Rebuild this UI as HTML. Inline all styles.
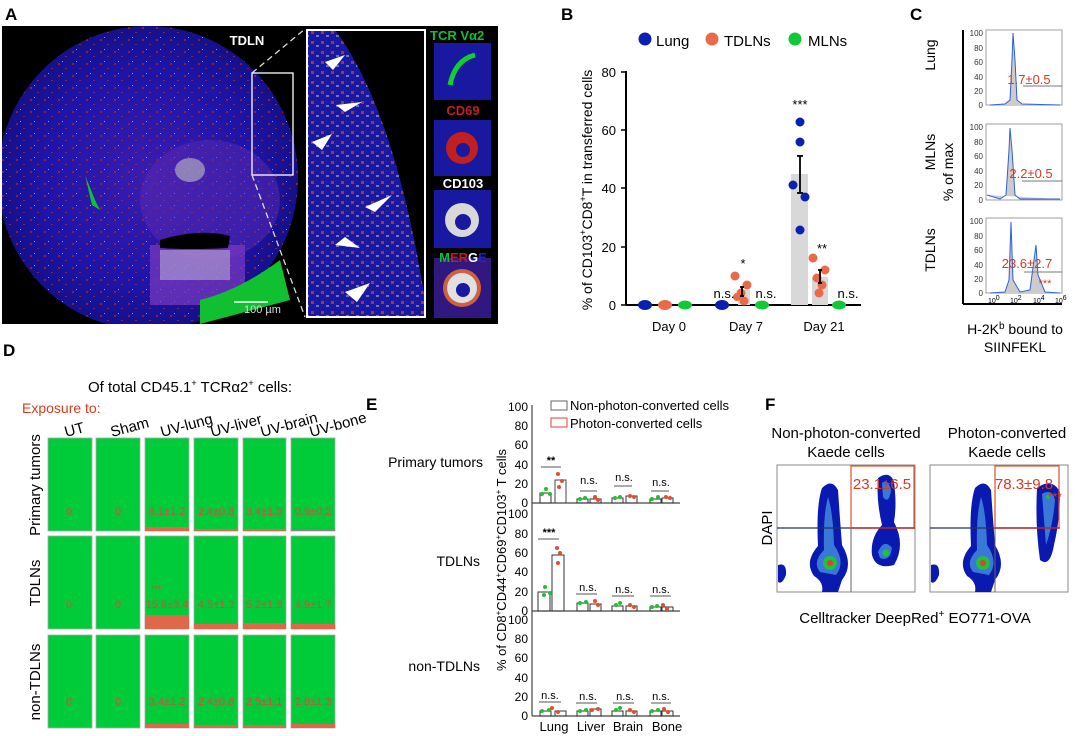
<!DOCTYPE html>
<html><head><meta charset="utf-8"><style>
html,body{margin:0;padding:0;background:#fff;}
svg{display:block;font-family:"Liberation Sans",Arial,sans-serif;}
</style></head><body>
<svg width="1080" height="736" viewBox="0 0 1080 736" xmlns="http://www.w3.org/2000/svg">
<defs>
<radialGradient id="tis" cx="50%" cy="50%" r="50%">
<stop offset="0" stop-color="#3a1cb0"/><stop offset="0.7" stop-color="#1e14a8"/><stop offset="1" stop-color="#15108a"/>
</radialGradient>
<pattern id="spk" width="14" height="12" patternUnits="userSpaceOnUse">
<rect x="2" y="3" width="2" height="2" fill="#b02020"/><rect x="9" y="8" width="2" height="1" fill="#8a3050"/><rect x="6" y="1" width="1" height="1" fill="#c0c0c0"/>
</pattern>
<pattern id="spk2" width="10" height="10" patternUnits="userSpaceOnUse">
<rect x="1" y="1" width="3" height="3" fill="#d04030"/><rect x="6" y="5" width="3" height="2" fill="#e0e0e0" opacity="0.6"/><rect x="5" y="0" width="2" height="2" fill="#202090"/>
</pattern>
<clipPath id="ca"><rect x="2" y="26" width="496" height="298"/></clipPath>
</defs>

<!-- Panel A -->
<text x="5" y="20" font-size="17" font-weight="bold">A</text>
<rect x="2" y="26" width="496" height="298" fill="#000"/>
<g clip-path="url(#ca)">
<ellipse cx="148" cy="178" rx="150" ry="152" fill="url(#tis)"/>
<ellipse cx="148" cy="178" rx="150" ry="152" fill="url(#spk)" opacity="0.8"/>
<ellipse cx="210" cy="200" rx="70" ry="60" fill="#5a2ab0" opacity="0.5"/>
<rect x="150" y="245" width="95" height="60" fill="#7a3ac0" opacity="0.7"/>
<rect x="160" y="250" width="70" height="30" fill="#c8c0d8" opacity="0.5"/>
<ellipse cx="190" cy="170" rx="15" ry="12" fill="#c0c0c0" opacity="0.6"/>
<path d="M160 240 Q200 228 230 236 L228 248 Q190 250 160 248Z" fill="#000"/>
<path d="M200 300 Q240 290 280 260 L290 300 L200 324Z" fill="#10c030"/>
<path d="M85 175 L95 200 L100 210 L92 205Z" fill="#10c030"/>
<rect x="252" y="73" width="41" height="102" fill="none" stroke="#fff" stroke-width="1.3"/>
</g>
<line x1="252" y1="73" x2="305" y2="29" stroke="#ddd" stroke-width="1.3" stroke-dasharray="6,4"/>
<line x1="252" y1="175" x2="305" y2="317" stroke="#ddd" stroke-width="1.3" stroke-dasharray="6,4"/>
<text x="247" y="45" font-size="13" font-weight="bold" fill="#fff" text-anchor="middle">TDLN</text>
<line x1="234" y1="302" x2="268" y2="302" stroke="#fff" stroke-width="1.5"/>
<text x="244" y="313" font-size="11" fill="#ddd">100 µm</text>
<rect x="307" y="30" width="118" height="287" fill="#1a18a0"/>
<rect x="307" y="30" width="118" height="287" fill="url(#spk2)" opacity="0.75"/>
<path d="M335 30 Q395 110 425 300 L425 30Z" fill="#000"/>
<rect x="307" y="30" width="118" height="287" fill="none" stroke="#fff" stroke-width="2"/>
<g fill="#fff">
<path d="M325 62 L345 55 L333 70Z"/><path d="M336 105 L362 102 L345 112Z"/><path d="M312 142 L332 134 L322 150Z"/>
<path d="M365 207 L392 195 L375 212Z"/><path d="M335 245 L360 248 L345 237Z"/><path d="M345 292 L370 283 L357 302Z"/>
</g>
<rect x="434" y="43" width="57" height="57" fill="#1818a0"/><path d="M450 85 Q455 60 475 55" stroke="#10d030" stroke-width="5" fill="none"/>
<rect x="434" y="120" width="57" height="56" fill="#1818a0"/><circle cx="462" cy="148" r="16" fill="#c02020"/><circle cx="463" cy="150" r="7" fill="#1818a0"/>
<rect x="434" y="190" width="57" height="58" fill="#1818a0"/><circle cx="462" cy="220" r="17" fill="#d8d8d8"/><circle cx="463" cy="222" r="8" fill="#1818a0"/>
<rect x="434" y="258" width="57" height="60" fill="#301880"/><circle cx="462" cy="288" r="19" fill="#d06040"/><circle cx="462" cy="288" r="15" fill="#e0e0e0"/><circle cx="463" cy="290" r="7" fill="#1818a0"/>
<text x="430" y="40" font-size="13" font-weight="bold" fill="#10c030">TCR Vα2</text>
<text x="463" y="115" font-size="13" font-weight="bold" fill="#c02020" text-anchor="middle">CD69</text>
<text x="463" y="188" font-size="13" font-weight="bold" fill="#fff" text-anchor="middle">CD103</text>
<text x="463" y="262" font-size="13" font-weight="bold" text-anchor="middle"><tspan fill="#10c030">M</tspan><tspan fill="#c02020">ER</tspan><tspan fill="#fff">G</tspan><tspan fill="#2020d0">E</tspan></text>

<!-- Panel B -->
<text x="561" y="20" font-size="17" font-weight="bold">B</text>
<circle cx="645" cy="39" r="6.5" fill="#0a20b0"/><text x="656" y="46" font-size="15">Lung</text>
<circle cx="712" cy="39" r="6.5" fill="#e86a48"/><text x="724" y="46" font-size="15">TDLNs</text>
<circle cx="795" cy="39" r="6.5" fill="#10c838"/><text x="808" y="46" font-size="15">MLNs</text>
<line x1="626" y1="71" x2="626" y2="305" stroke="#000" stroke-width="2"/>
<line x1="626" y1="305" x2="861" y2="305" stroke="#000" stroke-width="2"/>
<g stroke="#000" stroke-width="1.5"><line x1="621" y1="72" x2="626" y2="72"/><line x1="621" y1="130" x2="626" y2="130"/><line x1="621" y1="188" x2="626" y2="188"/><line x1="621" y1="247" x2="626" y2="247"/><line x1="621" y1="305" x2="626" y2="305"/></g>
<g font-size="13" text-anchor="end"><text x="616" y="77">80</text><text x="616" y="135">60</text><text x="616" y="193">40</text><text x="616" y="252">20</text><text x="616" y="310">0</text></g>
<text transform="translate(592,190) rotate(-90)" font-size="14" text-anchor="middle">% of CD103<tspan font-size="9" dy="-6">+</tspan><tspan dy="6">CD8</tspan><tspan font-size="9" dy="-6">+</tspan><tspan dy="6">T in transferred cells</tspan></text>
<g font-size="13" text-anchor="middle"><text x="669" y="331">Day 0</text><text x="746" y="331">Day 7</text><text x="824" y="331">Day 21</text></g>
<rect x="791" y="174" width="17" height="131" fill="#d8d8d8"/>
<rect x="812" y="277" width="16" height="28" fill="#d8d8d8"/>
<rect x="738" y="290" width="12" height="15" fill="#d8d8d8"/>
<g fill="#0a20b0"><ellipse cx="645" cy="305" rx="7" ry="5"/><ellipse cx="722" cy="305" rx="7" ry="5"/>
<circle cx="800" cy="122" r="4.5"/><circle cx="800" cy="142" r="4.5"/><circle cx="793" cy="185" r="4.5"/><circle cx="805" cy="197" r="4.5"/><circle cx="800" cy="230" r="4.5"/></g>
<g fill="#e86a48"><ellipse cx="665" cy="305" rx="7" ry="5"/>
<circle cx="735" cy="276" r="4.5"/><circle cx="747" cy="285" r="4.5"/><circle cx="741" cy="293" r="4.5"/><circle cx="744" cy="301" r="4.5"/><circle cx="737" cy="297" r="4"/>
<circle cx="813" cy="258" r="4.5"/><circle cx="825" cy="270" r="4.5"/><circle cx="817" cy="278" r="4.5"/><circle cx="822" cy="285" r="4.5"/><circle cx="819" cy="293" r="4.5"/></g>
<g fill="#10c838"><ellipse cx="685" cy="305" rx="7" ry="4.5"/><ellipse cx="762" cy="305" rx="7" ry="4.5"/><ellipse cx="839" cy="305" rx="7" ry="4.5"/></g>
<g stroke="#000" stroke-width="1.8"><line x1="800" y1="156" x2="800" y2="193"/><line x1="797" y1="156" x2="803" y2="156"/><line x1="797" y1="193" x2="803" y2="193"/>
<line x1="820" y1="270" x2="820" y2="283"/><line x1="818" y1="270" x2="822" y2="270"/><line x1="818" y1="283" x2="822" y2="283"/>
<line x1="742" y1="287" x2="742" y2="296"/><line x1="740" y1="287" x2="744" y2="287"/><line x1="740" y1="296" x2="744" y2="296"/></g>
<g font-size="13" text-anchor="middle"><text x="800" y="109">***</text><text x="822" y="253">**</text><text x="743" y="268">*</text>
<text x="724" y="298">n.s.</text><text x="766" y="298">n.s.</text><text x="848" y="298">n.s.</text></g>

<!-- Panel C -->
<text x="910" y="20" font-size="17" font-weight="bold">C</text>
<line x1="963" y1="30" x2="963" y2="304" stroke="#000" stroke-width="2"/>
<line x1="963" y1="304" x2="1062" y2="304" stroke="#000" stroke-width="2"/>
<text transform="translate(935,55) rotate(-90)" font-size="14" text-anchor="middle">Lung</text>
<text transform="translate(935,152) rotate(-90)" font-size="14" text-anchor="middle">MLNs</text>
<text transform="translate(935,250) rotate(-90)" font-size="14" text-anchor="middle">TDLNs</text>
<text transform="translate(953,172) rotate(-90)" font-size="14" text-anchor="middle">% of max</text>
<g font-size="8" fill="#333" text-anchor="end">
<text x="983" y="36">100</text><text x="983" y="51">80</text><text x="983" y="65">60</text><text x="983" y="80">40</text><text x="983" y="94">20</text><text x="983" y="108">0</text>
<text x="983" y="130">100</text><text x="983" y="145">80</text><text x="983" y="159">60</text><text x="983" y="174">40</text><text x="983" y="188">20</text><text x="983" y="203">0</text>
<text x="983" y="224">100</text><text x="983" y="239">80</text><text x="983" y="253">60</text><text x="983" y="268">40</text><text x="983" y="282">20</text><text x="983" y="296">0</text></g>
<g fill="none" stroke="#888" stroke-width="0.8"><rect x="986" y="30" width="76" height="75"/><rect x="986" y="124" width="76" height="76"/><rect x="986" y="218" width="76" height="75"/></g>
<path d="M990 105 L1005 104 L1010 100 L1012 60 L1013 33 L1015 60 L1017 100 L1022 104 L1060 105" fill="#ccc" stroke="#3060d0" stroke-width="1"/>
<path d="M987 195 L1000 199 L1006 195 L1009 150 L1010 128 L1012 150 L1015 195 L1020 199 L1060 199" fill="#ccc" stroke="#3060d0" stroke-width="1"/>
<path d="M990 293 L1005 292 L1009 280 L1011 222 L1013 280 L1020 292 L1030 290 L1034 260 L1036 245 L1038 275 L1045 292 L1060 293" fill="#ccc" stroke="#3060d0" stroke-width="1"/>
<g stroke="#777" stroke-width="1"><line x1="1023" y1="86" x2="1062" y2="86"/><line x1="1022" y1="181" x2="1062" y2="181"/><line x1="1024" y1="272" x2="1062" y2="272"/></g>
<g font-size="13" fill="#d83a20" text-anchor="middle"><text x="1029" y="84">1.7±0.5</text><text x="1031" y="178">2.2±0.5</text><text x="1027" y="268">23.6±2.7</text><text x="1045" y="287" font-size="11">***</text></g>
<text x="988" y="303" font-size="7">10<tspan dy="-3">0</tspan></text><text x="1010" y="303" font-size="7">10<tspan dy="-3">2</tspan></text><text x="1033" y="303" font-size="7">10<tspan dy="-3">4</tspan></text><text x="1055" y="303" font-size="7">10<tspan dy="-3">6</tspan></text>
<text x="1015" y="334" font-size="14" text-anchor="middle">H-2K<tspan font-size="10" dy="-5">b</tspan><tspan dy="5"> bound to</tspan></text>
<text x="1015" y="352" font-size="14" text-anchor="middle">SIINFEKL</text>

<!-- Panel D -->
<text x="3" y="356" font-size="17" font-weight="bold">D</text>
<text x="190" y="392" font-size="15" text-anchor="middle">Of total CD45.1<tspan font-size="9" dy="-6">+</tspan><tspan dy="6"> TCRα2</tspan><tspan font-size="9" dy="-6">+</tspan><tspan dy="6"> cells:</tspan></text>
<text x="22" y="413" font-size="14" fill="#d83a20">Exposure to:</text>
<g font-size="15">
<text transform="translate(66,437) rotate(-15)">UT</text>
<text transform="translate(112,437) rotate(-15)">Sham</text>
<text transform="translate(162,437) rotate(-15)">UV-lung</text>
<text transform="translate(212,437) rotate(-15)">UV-liver</text>
<text transform="translate(262,437) rotate(-15)">UV-brain</text>
<text transform="translate(311,437) rotate(-15)">UV-bone</text></g>
<text transform="translate(40,485) rotate(-90)" font-size="15" text-anchor="middle">Primary tumors</text>
<text transform="translate(40,583) rotate(-90)" font-size="15" text-anchor="middle">TDLNs</text>
<text transform="translate(40,682) rotate(-90)" font-size="15" text-anchor="middle">non-TDLNs</text>
<g fill="#00cc3a" stroke="#aaa" stroke-width="0.8">
<rect x="48" y="438" width="44" height="93"/><rect x="96" y="438" width="44" height="93"/><rect x="145" y="438" width="44" height="93"/><rect x="194" y="438" width="44" height="93"/><rect x="243" y="438" width="43" height="93"/><rect x="291" y="438" width="44" height="93"/>
<rect x="48" y="536" width="44" height="93"/><rect x="96" y="536" width="44" height="93"/><rect x="145" y="536" width="44" height="93"/><rect x="194" y="536" width="44" height="93"/><rect x="243" y="536" width="43" height="93"/><rect x="291" y="536" width="44" height="93"/>
<rect x="48" y="635" width="44" height="93"/><rect x="96" y="635" width="44" height="93"/><rect x="145" y="635" width="44" height="93"/><rect x="194" y="635" width="44" height="93"/><rect x="243" y="635" width="43" height="93"/><rect x="291" y="635" width="44" height="93"/></g>
<g fill="#e0684a">
<rect x="145" y="527" width="44" height="4"/><rect x="194" y="529" width="44" height="2"/><rect x="243" y="529" width="43" height="2"/><rect x="291" y="530" width="44" height="1" fill="#888"/>
<rect x="145" y="615" width="44" height="14"/><rect x="194" y="624" width="44" height="5"/><rect x="243" y="623" width="43" height="6"/><rect x="291" y="624" width="44" height="5"/>
<rect x="145" y="724" width="44" height="4"/><rect x="194" y="725" width="44" height="3"/><rect x="243" y="725" width="43" height="3"/><rect x="291" y="724" width="44" height="4"/></g>
<g font-size="11" fill="#d84a40" text-anchor="middle">
<text x="69" y="515">0</text><text x="118" y="515">0</text><text x="167" y="515">6.1±1.2</text><text x="216" y="515">2.4±0.8</text><text x="264" y="515">3.4±1.5</text><text x="313" y="515">0.9±0.2</text>
<text x="69" y="608">0</text><text x="118" y="608">0</text><text x="167" y="608">15.6±3.4</text><text x="216" y="608">4.5±1.2</text><text x="264" y="608">5.2±1.3</text><text x="313" y="608">4.9±1.7</text>
<text x="156" y="592" font-size="9">***</text>
<text x="69" y="705">0</text><text x="118" y="705">0</text><text x="167" y="705">3.4±1.2</text><text x="216" y="705">2.4±0.8</text><text x="264" y="705">2.5±1.1</text><text x="313" y="705">2.8±1.3</text></g>

<!-- Panel E -->
<text x="366" y="410" font-size="17" font-weight="bold">E</text>
<rect x="551" y="401" width="16" height="9" fill="none" stroke="#666"/><text x="570" y="410" font-size="13">Non-photon-converted cells</text>
<rect x="551" y="418" width="16" height="9" fill="none" stroke="#e04030"/><text x="570" y="428" font-size="13">Photon-converted cells</text>
<line x1="532" y1="405" x2="532" y2="716" stroke="#444" stroke-width="1.2"/>
<g stroke="#444" stroke-width="1.2"><line x1="532" y1="503" x2="680" y2="503"/><line x1="532" y1="611" x2="680" y2="611"/><line x1="532" y1="716" x2="680" y2="716"/></g>
<g font-size="12" text-anchor="end">
<text x="528" y="411">100</text><text x="528" y="430">80</text><text x="528" y="449">60</text><text x="528" y="469">40</text><text x="528" y="488">20</text><text x="528" y="507">0</text>
<text x="528" y="518">100</text><text x="528" y="538">80</text><text x="528" y="557">60</text><text x="528" y="576">40</text><text x="528" y="596">20</text><text x="528" y="615">0</text>
<text x="528" y="624">100</text><text x="528" y="643">80</text><text x="528" y="662">60</text><text x="528" y="682">40</text><text x="528" y="701">20</text><text x="528" y="720">0</text></g>
<text transform="translate(506,560) rotate(-90)" font-size="13" text-anchor="middle">% of CD8<tspan font-size="8" dy="-5">+</tspan><tspan dy="5">CD44</tspan><tspan font-size="8" dy="-5">+</tspan><tspan dy="5">CD69</tspan><tspan font-size="8" dy="-5">+</tspan><tspan dy="5">CD103</tspan><tspan font-size="8" dy="-5">+</tspan><tspan dy="5"> T cells</tspan></text>
<text x="483" y="467" font-size="14" text-anchor="end">Primary tumors</text>
<text x="480" y="566" font-size="14" text-anchor="end">TDLNs</text>
<text x="480" y="671" font-size="14" text-anchor="end">non-TDLNs</text>
<g fill="none" stroke="#333" stroke-width="1">
<rect x="540" y="493" width="11" height="10"/><rect x="555" y="480" width="11" height="23" stroke="#444"/>
<rect x="577" y="499" width="11" height="4"/><rect x="590" y="499" width="11" height="4"/><rect x="612" y="498" width="11" height="5"/><rect x="626" y="496" width="11" height="7"/><rect x="650" y="499" width="11" height="4"/><rect x="662" y="498" width="11" height="5"/>
<rect x="538" y="592" width="12" height="19"/><rect x="552" y="555" width="12" height="56"/>
<rect x="577" y="603" width="11" height="8"/><rect x="590" y="604" width="11" height="7"/><rect x="612" y="606" width="11" height="5"/><rect x="626" y="606" width="11" height="5"/><rect x="650" y="607" width="11" height="4"/><rect x="662" y="607" width="11" height="4"/>
<rect x="540" y="711" width="11" height="5"/><rect x="555" y="711" width="11" height="5"/><rect x="577" y="711" width="11" height="5"/><rect x="590" y="709" width="11" height="7"/><rect x="612" y="711" width="11" height="5"/><rect x="626" y="711" width="11" height="5"/><rect x="650" y="711" width="11" height="5"/><rect x="662" y="711" width="11" height="5"/></g>
<g fill="#20c030"><circle cx="542" cy="494" r="2"/><circle cx="546" cy="489" r="2"/><circle cx="550" cy="494" r="2"/><circle cx="544" cy="595" r="2"/><circle cx="545" cy="587" r="2"/><circle cx="550" cy="593" r="2"/>
<circle cx="580" cy="499" r="2"/><circle cx="585" cy="498" r="2"/><circle cx="615" cy="498" r="2"/><circle cx="620" cy="497" r="2"/><circle cx="652" cy="499" r="2"/><circle cx="658" cy="497" r="2"/>
<circle cx="580" cy="603" r="2"/><circle cx="586" cy="602" r="2"/><circle cx="616" cy="605" r="2"/><circle cx="620" cy="603" r="2"/><circle cx="652" cy="607" r="2"/><circle cx="657" cy="606" r="2"/>
<circle cx="542" cy="711" r="2"/><circle cx="549" cy="710" r="2"/><circle cx="580" cy="711" r="2"/><circle cx="586" cy="710" r="2"/><circle cx="616" cy="710" r="2"/><circle cx="620" cy="708" r="2"/><circle cx="652" cy="711" r="2"/><circle cx="658" cy="710" r="2"/></g>
<g fill="#e05030"><circle cx="558" cy="474" r="2"/><circle cx="559" cy="487" r="2"/><circle cx="562" cy="481" r="2"/><circle cx="557" cy="548" r="2"/><circle cx="558" cy="563" r="2"/><circle cx="560" cy="553" r="2"/>
<circle cx="595" cy="497" r="2"/><circle cx="598" cy="500" r="2"/><circle cx="630" cy="496" r="2"/><circle cx="634" cy="497" r="2"/><circle cx="666" cy="497" r="2"/><circle cx="670" cy="498" r="2"/>
<circle cx="595" cy="601" r="2"/><circle cx="598" cy="605" r="2"/><circle cx="630" cy="605" r="2"/><circle cx="634" cy="607" r="2"/><circle cx="663" cy="605" r="2"/><circle cx="667" cy="609" r="2"/>
<circle cx="552" cy="708" r="2"/><circle cx="558" cy="712" r="2"/><circle cx="592" cy="710" r="2"/><circle cx="598" cy="709" r="2"/><circle cx="630" cy="710" r="2"/><circle cx="634" cy="712" r="2"/><circle cx="664" cy="709" r="2"/><circle cx="668" cy="712" r="2"/></g>
<g stroke="#555" stroke-width="1"><line x1="541" y1="467" x2="561" y2="467"/><line x1="580" y1="491" x2="597" y2="491"/><line x1="614" y1="486" x2="632" y2="486"/><line x1="651" y1="491" x2="669" y2="491"/>
<line x1="538" y1="539" x2="559" y2="539"/><line x1="576" y1="594" x2="597" y2="594"/><line x1="612" y1="596" x2="634" y2="596"/><line x1="650" y1="596" x2="671" y2="596"/>
<line x1="539" y1="702" x2="561" y2="702"/><line x1="576" y1="703" x2="597" y2="703"/><line x1="613" y1="703" x2="634" y2="703"/><line x1="651" y1="703" x2="671" y2="703"/></g>
<g font-size="11" text-anchor="middle"><text x="551" y="464" font-weight="bold">**</text><text x="589" y="484">n.s.</text><text x="624" y="481">n.s.</text><text x="661" y="486">n.s.</text>
<text x="549" y="536" font-weight="bold">***</text><text x="588" y="591">n.s.</text><text x="624" y="593">n.s.</text><text x="661" y="593">n.s.</text>
<text x="550" y="699">n.s.</text><text x="588" y="700">n.s.</text><text x="625" y="700">n.s.</text><text x="661" y="700">n.s.</text></g>
<g font-size="13" text-anchor="middle"><text x="554" y="731">Lung</text><text x="591" y="731">Liver</text><text x="628" y="731">Brain</text><text x="667" y="731">Bone</text></g>

<!-- Panel F -->
<text x="765" y="410" font-size="17" font-weight="bold">F</text>
<g font-size="15" text-anchor="middle"><text x="846" y="438">Non-photon-converted</text><text x="846" y="457">Kaede cells</text>
<text x="1007" y="438">Photon-converted</text><text x="1007" y="457">Kaede cells</text></g>
<text transform="translate(772,528) rotate(-90)" font-size="15" text-anchor="middle">DAPI</text>
<text x="915" y="623" font-size="15" text-anchor="middle">Celltracker DeepRed<tspan font-size="10" dy="-6">+</tspan><tspan dy="6"> EO771-OVA</tspan></text>
<g id="fl">
<rect x="777" y="465" width="138" height="127" fill="#fff" stroke="#888"/>
<path d="M814 576 Q804 562 818 546 Q816 505 822 488 Q832 478 838 490 Q840 520 842 545 Q854 565 842 580 L838 592 L822 592 Q824 582 814 576Z" fill="#0a1ab0"/>
<path d="M820 572 Q812 562 824 550 Q823 515 828 497 Q833 512 834 545 Q846 562 836 575Z" fill="#3a78d8"/>
<circle cx="830" cy="563" r="7" fill="#20c040"/><circle cx="830" cy="563" r="3" fill="#e04030"/>
<path d="M778 565 Q787 562 786 575 Q782 585 778 582Z" fill="#0a1ab0"/>
</g>
<path d="M878 478 Q890 470 894 482 Q897 505 894 522 Q906 545 894 565 Q876 570 872 555 Q870 538 882 525 Q876 500 878 478Z" fill="#0a1ab0"/>
<path d="M882 483 Q888 478 891 490 Q889 505 883 497Z M878 552 Q884 538 892 548 Q890 562 880 558Z" fill="#3a78d8"/>
<circle cx="886" cy="553" r="3.5" fill="#20c040"/>
<line x1="777" y1="528" x2="915" y2="528" stroke="#203060" stroke-width="1.2"/>
<line x1="851" y1="465" x2="851" y2="592" stroke="#666" stroke-width="1"/>
<rect x="851" y="466" width="63" height="62" fill="none" stroke="#e05030" stroke-width="1.2"/>
<line x1="851" y1="528" x2="915" y2="528" stroke="#c02020" stroke-width="1.2"/>
<text x="882" y="489" font-size="15" fill="#d83a20" text-anchor="middle">23.1±6.5</text>

<use href="#fl" x="153"/>
<path d="M1037 488 Q1052 477 1060 492 Q1060 520 1054 545 Q1050 568 1040 560 Q1035 525 1037 488Z" fill="#0a1ab0"/>
<path d="M1042 494 Q1052 488 1055 500 Q1053 525 1046 545Z" fill="#3a78d8"/>
<circle cx="1048" cy="497" r="2" fill="#20c040"/>
<line x1="930" y1="528" x2="1060" y2="528" stroke="#203060" stroke-width="1.2"/>
<line x1="995" y1="465" x2="995" y2="592" stroke="#666" stroke-width="1"/>
<rect x="995" y="466" width="64" height="62" fill="none" stroke="#e05030" stroke-width="1.2"/>
<line x1="995" y1="528" x2="1059" y2="528" stroke="#c02020" stroke-width="1.2"/>
<text x="1024" y="489" font-size="15" fill="#d83a20" text-anchor="middle">78.3±9.8</text>
<text x="1062" y="501" font-size="12" fill="#d83a20" text-anchor="end">***</text>
</svg>
</body></html>
